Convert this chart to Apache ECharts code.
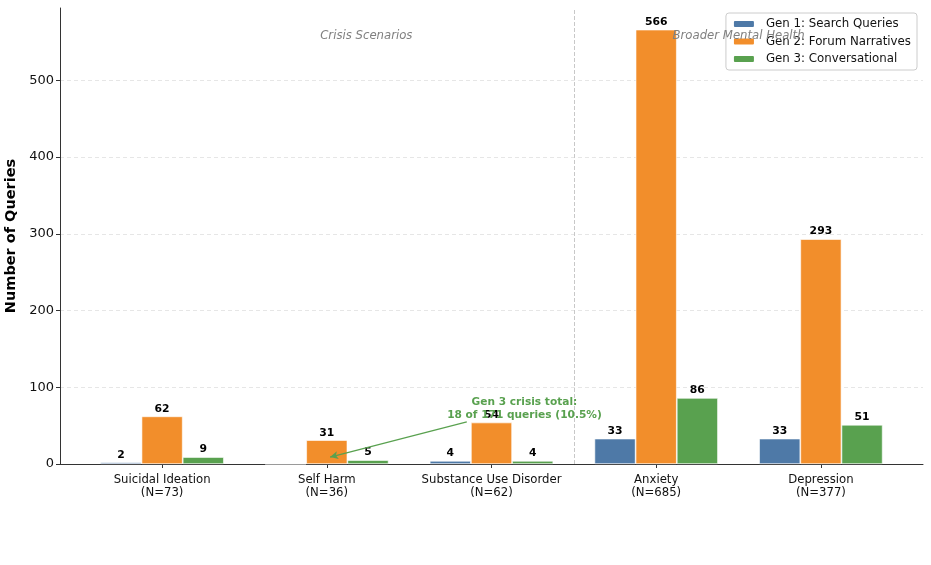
<!DOCTYPE html>
<html><head><meta charset="utf-8">
<script src="https://cdn.jsdelivr.net/npm/echarts@6/dist/echarts.min.js"></script>
<style>html,body{margin:0;padding:0;background:#fff}#c{width:931px;height:565px}</style>
</head><body><div id="c"></div>
<script>
const categoryNames = ['Suicidal Ideation', 'Self Harm', 'Substance Use Disorder', 'Anxiety', 'Depression'];
const categoryN = [73, 36, 62, 685, 377];
const gen1 = [2, 0, 4, 33, 33];
const gen2 = [62, 31, 54, 566, 293];
const gen3 = [9, 5, 4, 86, 51];
const seriesNames = ['Gen 1: Search Queries', 'Gen 2: Forum Narratives', 'Gen 3: Conversational'];
const colors = ['#4e79a7', '#f28e2b', '#59a14f'];
const yTicks = [0, 100, 200, 300, 400, 500];

const FONT = 'DejaVu Sans';
const chart = echarts.init(document.getElementById('c'));
const offsets = [-0.25, 0, 0.25];
const all = [gen1, gen2, gen3];

const series = all.map((arr, s) => ({
  name: seriesNames[s],
  type: 'bar',
  barWidth: 41,
  barGap: '-100%',
  data: arr.map((v, i) => [i + offsets[s], v]),
  itemStyle: { color: colors[s], borderColor: '#fff', borderWidth: 0.6 },
  label: {
    show: true, position: 'top', distance: 2,
    fontFamily: FONT, fontSize: 10.8, fontWeight: 'bold', color: '#000',
    formatter: p => p.value[1] === 0 ? '' : String(p.value[1])
  }
}));

series[0].markLine = {
  silent: true, symbol: 'none',
  label: { show: false },
  lineStyle: { type: 'dashed', color: '#c8c8c8', width: 1 },
  data: [{ xAxis: 2.5 }]
};
series[1].markPoint = {
  silent: true,
  symbol: 'circle', symbolSize: 1,
  itemStyle: { color: 'rgba(0,0,0,0)' },
  data: [
    { coord: [1.24, 558], label: { show: true, position: 'inside', formatter: 'Crisis Scenarios', fontFamily: FONT, fontSize: 11.7, fontStyle: 'italic', color: '#808080' } },
    { coord: [3.5, 558], label: { show: true, position: 'inside', formatter: 'Broader Mental Health', fontFamily: FONT, fontSize: 11.7, fontStyle: 'italic', color: '#808080' } }
  ]
};
series[2].markPoint = {
  silent: true,
  symbol: 'circle', symbolSize: 1,
  itemStyle: { color: 'rgba(0,0,0,0)' },
  data: [
    { coord: [2.2, 72], label: { show: true, position: 'inside', align: 'center', formatter: 'Gen 3 crisis total:\n18 of 171 queries (10.5%)', fontFamily: FONT, fontSize: 10.6, fontWeight: 'bold', color: '#59a14f', lineHeight: 12.5 } }
  ]
};
series[2].markLine = {
  silent: true,
  symbol: ['none', 'arrow'], symbolSize: [6, 8],
  label: { show: false },
  lineStyle: { type: 'solid', color: '#59a14f', width: 1.2 },
  data: [[{ coord: [1.85, 55] }, { coord: [1.02, 9] }]]
};

chart.setOption({
  animation: false,
  grid: { left: 60, right: 8, top: 8, bottom: 101, containLabel: false, outerBoundsMode: 'none' },
  legend: {
    orient: 'vertical', right: 14, top: 13,
    itemWidth: 22, itemHeight: 8, itemGap: 5.5,
    backgroundColor: '#fff', borderColor: '#cccccc', borderWidth: 1, borderRadius: 3,
    padding: [5, 6, 5, 6],
    textStyle: { fontFamily: FONT, fontSize: 11.8, color: '#111', padding: [0, 0, 0, 6] },
    data: seriesNames
  },
  xAxis: {
    type: 'value', min: -0.62, max: 4.62,
    splitLine: { show: false },
    axisLine: { show: true, onZero: false, lineStyle: { color: '#333', width: 1 } },
    axisTick: { show: true, customValues: [0, 1, 2, 3, 4], length: 4, lineStyle: { color: '#333' } },
    axisLabel: {
      customValues: [0, 1, 2, 3, 4],
      fontFamily: FONT, fontSize: 11.7, color: '#111', lineHeight: 13.5, margin: 9,
      formatter: v => { const i = Math.round(v); return categoryNames[i] + '\n(N=' + categoryN[i] + ')'; }
    }
  },
  yAxis: {
    type: 'value', min: 0, max: 594.3,
    name: 'Number of Queries', nameLocation: 'middle', nameGap: 35,
    nameTextStyle: { fontFamily: FONT, fontSize: 14.5, fontWeight: 'bold', color: '#000' },
    axisLine: { show: true, onZero: false, lineStyle: { color: '#333', width: 1 } },
    axisTick: { show: true, customValues: yTicks, length: 4, lineStyle: { color: '#333' } },
    axisLabel: { customValues: yTicks, fontFamily: FONT, fontSize: 13, color: '#111', margin: 6 },
    splitLine: { show: true, lineStyle: { type: [4, 3], color: '#e6e6e6' } }
  },
  series
});
</script></body></html>
